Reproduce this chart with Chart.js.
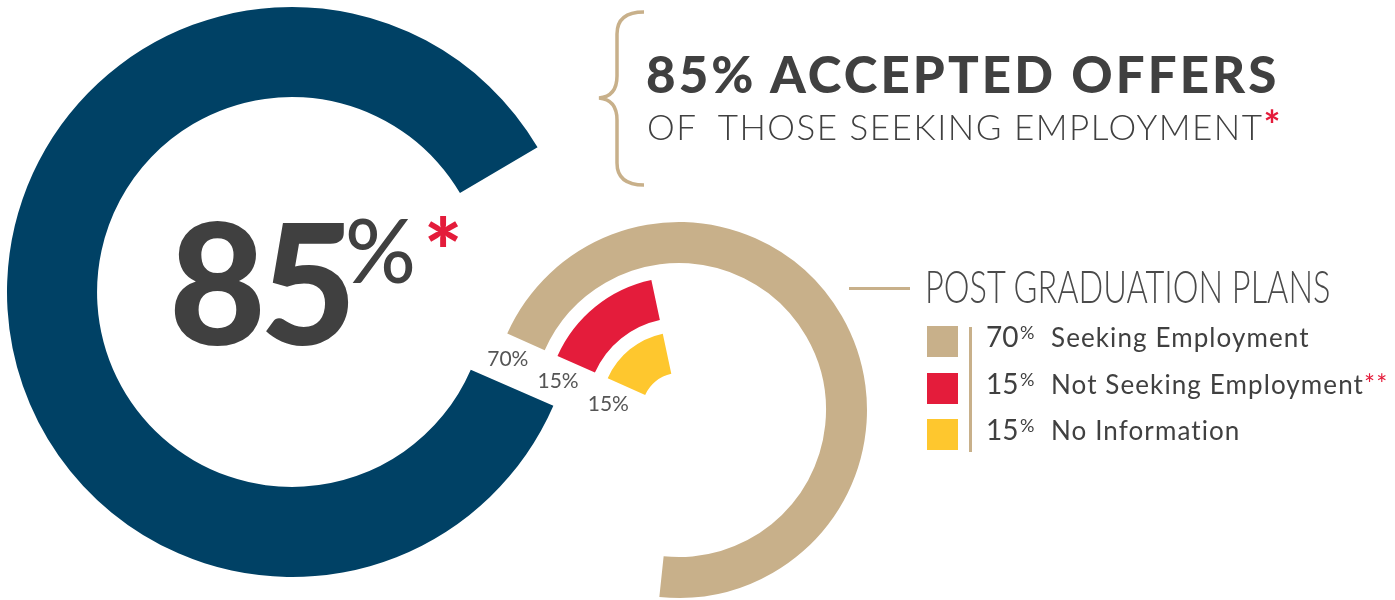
<!DOCTYPE html>
<html>
<head>
<meta charset="utf-8">
<script src="https://cdn.jsdelivr.net/npm/chart.js@4.4.1/dist/chart.umd.min.js"></script>
<style>
  body { margin: 0; background: #fff; }
  #wrap { position: relative; width: 1395px; height: 600px; overflow: hidden; font-family: Lato, "Open Sans", sans-serif; color: #404040; }
  .abs { position: absolute; white-space: nowrap; line-height: 1; }
  .red { color: #e41c3b; }
</style>
</head>
<body>
<div id="wrap">
  <canvas id="accepted" width="584" height="584" style="position:absolute;left:0;top:0"></canvas>
  <canvas id="plans" width="400" height="400" style="position:absolute;left:479px;top:210px"></canvas>

  <svg width="1395" height="600" style="position:absolute;left:0;top:0">
    <path d="M644 12 C626 12 617 19 617 34 L617 76 C617 90 610 97 599 98 C610 99 617 106 617 120 L617 163 C617 178 626 185 644 185"
          fill="none" stroke="#c8b08a" stroke-width="3.5"/>
  </svg>

  <div class="abs" style="left:169px;top:197px;font-size:167px;font-weight:900;letter-spacing:-6px">85</div>
  <div class="abs" style="left:345px;top:205px;font-size:88px;font-weight:500">%</div>
  <div class="abs red" style="left:424px;top:204px;font-size:90px;font-weight:900">*</div>

  <div class="abs" id="head1" style="left:646px;top:48px;font-size:51px;font-weight:900;letter-spacing:3.1px">85% ACCEPTED OFFERS</div>
  <div class="abs" id="head2" style="left:647px;top:109px;font-size:35px;font-weight:300;letter-spacing:1.5px">OF&nbsp; THOSE SEEKING EMPLOYMENT<span class="red" style="font-size:40px;font-weight:700;letter-spacing:0;line-height:0">*</span></div>

  <div class="abs" style="left:849px;top:287px;width:61px;height:2.5px;background:#c8b08a"></div>
  <div class="abs" id="legendTitle" style="left:925px;top:263px;font-size:46px;font-weight:300;color:#4a4a4a;transform-origin:0 0">POST GRADUATION PLANS</div>
  <div class="abs" style="left:969px;top:327px;width:3px;height:125px;background:#c8b08a"></div>
  <div id="legend"></div>
</div>

<script>
var acceptedValue = 85;
var planLabels = ['Seeking Employment', 'Not Seeking Employment', 'No Information'];
var planValues = [70, 15, 15];
var planNotes = ['', '**', ''];
var planColors = ['#c8b08a', '#e41c3b', '#fec72e'];
var navy = '#004165';
var clear = 'rgba(0,0,0,0)';

// big 85% ring
new Chart(document.getElementById('accepted'), {
  type: 'doughnut',
  data: {
    labels: ['Accepted offers', 'Other'],
    datasets: [{
      data: [acceptedValue, 100 - acceptedValue],
      backgroundColor: [navy, clear],
      borderWidth: 0
    }]
  },
  options: {
    responsive: false,
    animation: false,
    events: [],
    rotation: 113.5,
    cutout: '68.4%',
    radius: 285,
    plugins: { legend: { display: false }, tooltip: { enabled: false } }
  }
});

// post graduation plans: one ring per category, blank rings in between
var ringWeight = 41, gapWeight = 14;
var datasets = [];
var ringIndex = [];
planValues.forEach(function (v, i) {
  if (i > 0) datasets.push({ data: [100], backgroundColor: [clear], borderWidth: 0, weight: gapWeight });
  ringIndex.push(datasets.length);
  datasets.push({
    label: planLabels[i],
    data: [v, 100 - v],
    backgroundColor: [planColors[i], clear],
    borderWidth: 0,
    weight: ringWeight
  });
});

var wrap = document.getElementById('wrap');
var pctLabels = planValues.map(function (v) {
  var d = document.createElement('div');
  d.className = 'abs';
  d.style.fontSize = '21px';
  d.style.color = '#555';
  d.style.transform = 'translate(-50%,-50%)';
  d.textContent = v + '%';
  wrap.appendChild(d);
  return d;
});

var ringLabels = {
  id: 'ringLabels',
  afterDraw: function (chart) {
    var cv = chart.canvas;
    ringIndex.forEach(function (di, i) {
      var arc = chart.getDatasetMeta(di).data[0];
      var a = arc.startAngle;
      var d = arc.outerRadius - 10, s = 21;
      var px = arc.x + d * Math.cos(a) + s * Math.sin(a);
      var py = arc.y + d * Math.sin(a) - s * Math.cos(a);
      pctLabels[i].style.left = (cv.offsetLeft + px) + 'px';
      pctLabels[i].style.top = (cv.offsetTop + py) + 'px';
    });
  }
};

new Chart(document.getElementById('plans'), {
  type: 'doughnut',
  data: { labels: ['Share', 'Rest'], datasets: datasets },
  options: {
    responsive: false,
    animation: false,
    events: [],
    rotation: 294,
    cutout: '19.7%',
    radius: 188,
    plugins: { legend: { display: false }, tooltip: { enabled: false } }
  },
  plugins: [ringLabels]
});

// legend rows
var legend = document.getElementById('legend');
planLabels.forEach(function (lab, i) {
  var base = 347 + i * 46.5;
  var html = '';
  html += '<div class="abs" style="left:927px;top:' + (base - 21) + 'px;width:31px;height:31px;background:' + planColors[i] + '"></div>';
  html += '<div class="abs" style="left:986px;top:' + (base - 25) + 'px;font-size:28px;font-weight:400">' + planValues[i] + '</div>';
  html += '<div class="abs" style="left:1020px;top:' + (base - 24) + 'px;font-size:18px;font-weight:400">%</div>';
  html += '<div class="abs" style="left:1051px;top:' + (base - 23) + 'px;font-size:26px;font-weight:400;letter-spacing:1.1px">' + lab +
          (planNotes[i] ? '<span class="red">' + planNotes[i] + '</span>' : '') + '</div>';
  legend.insertAdjacentHTML('beforeend', html);
});

// squeeze the thin title to its width
var lt = document.getElementById('legendTitle');
lt.style.transform = 'scaleX(' + (405 / lt.offsetWidth) + ')';
</script>
</body>
</html>
